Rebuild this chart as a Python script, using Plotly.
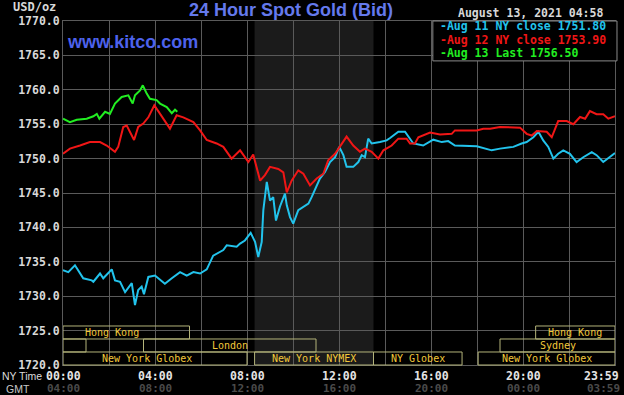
import plotly.graph_objects as go

# ---------------- data (hours after 00:00 NY time, USD/oz) ----------------
aug11_hours = [0.0, 0.23, 0.52, 0.88, 1.25, 1.32, 1.61, 1.75, 2.12, 2.26, 2.48, 2.70, 2.99, 3.13,
               3.27, 3.42, 3.52, 3.71, 4.00, 4.43, 4.73, 5.09, 5.38, 5.67, 5.96, 6.25, 6.53,
               6.97, 7.12, 7.55, 7.70, 7.91, 8.16, 8.35, 8.49, 8.64, 8.71, 8.86, 9.00, 9.14,
               9.26, 9.43, 9.65, 9.73, 9.87, 10.01, 10.23, 10.45, 10.67, 10.81, 11.03, 11.17,
               11.39, 11.61, 11.83, 12.01, 12.19, 12.33, 12.62, 12.84, 12.99, 13.13, 13.27,
               13.42, 13.78, 14.07, 14.22, 14.36, 14.58, 14.65, 14.87, 15.23, 15.66, 16.10,
               16.47, 16.75, 17.04, 17.99, 18.64, 19.00, 19.58, 19.94, 20.16, 20.45, 20.67,
               20.88, 21.10, 21.32, 21.53, 21.75, 22.04, 22.33, 22.62, 22.99, 23.20, 23.49,
               23.78, 24.0]
aug11_price = [1733.8, 1733.5, 1734.5, 1732.6, 1732.3, 1732.1, 1733.3, 1732.6, 1733.9, 1732.3,
               1732.1, 1730.6, 1731.9, 1728.7, 1730.9, 1731.4, 1730.3, 1732.8, 1733.0, 1731.8,
               1732.6, 1733.5, 1733.0, 1733.5, 1733.3, 1733.9, 1735.9, 1736.7, 1737.4, 1737.2,
               1737.65, 1738.1, 1739.2, 1737.9, 1735.7, 1737.9, 1742.5, 1746.6, 1743.9, 1744.4,
               1741.0, 1743.0, 1744.9, 1743.2, 1741.5, 1740.55, 1742.5, 1743.0, 1743.45, 1744.4,
               1745.9, 1747.1, 1748.05, 1749.5, 1750.2, 1751.7, 1750.5, 1748.8, 1748.8, 1749.5,
               1750.5, 1750.2, 1752.9, 1752.2, 1752.4, 1752.65, 1753.0, 1753.4, 1753.9, 1753.9,
               1753.9, 1752.2, 1751.9, 1752.75, 1752.4, 1752.55, 1751.9, 1751.8, 1751.2, 1751.45,
               1751.7, 1752.2, 1752.4, 1753.1, 1753.9, 1752.65, 1751.7, 1750.0, 1750.7, 1751.2,
               1750.7, 1749.5, 1750.2, 1750.95, 1750.5, 1749.5, 1750.2, 1750.8]

aug12_hours = [0.0, 0.30, 0.74, 1.17, 1.61, 1.90, 2.26, 2.40, 2.62, 2.77, 3.09, 3.27, 3.49, 3.71,
               3.97, 4.22, 4.65, 4.94, 5.23, 5.67, 5.96, 6.25, 6.68, 6.97, 7.33, 7.70, 8.06,
               8.27, 8.57, 8.78, 9.00, 9.36, 9.58, 9.73, 9.94, 10.23, 10.45, 10.74, 11.03,
               11.32, 11.53, 11.83, 12.04, 12.33, 12.62, 12.91, 13.13, 13.42, 13.71, 13.93,
               14.29, 14.58, 14.94, 15.09, 15.30, 15.45, 15.96, 16.39, 16.90, 17.04, 17.99,
               18.27, 18.57, 19.00, 19.87, 20.16, 20.38, 20.60, 21.03, 21.25, 21.53, 21.90,
               22.19, 22.48, 22.70, 22.91, 23.20, 23.49, 23.71, 24.0]
aug12_price = [1750.7, 1751.45, 1751.9, 1752.4, 1752.4, 1751.9, 1751.0, 1751.7, 1754.6, 1754.8,
               1752.7, 1754.6, 1755.1, 1756.0, 1757.75, 1756.5, 1754.35, 1756.3, 1756.0, 1755.3,
               1754.1, 1752.7, 1752.2, 1751.7, 1750.0, 1751.2, 1749.5, 1750.6, 1746.8, 1747.6,
               1748.8, 1748.5, 1748.0, 1745.1, 1746.8, 1748.3, 1747.8, 1746.1, 1747.1, 1747.8,
               1749.75, 1750.7, 1751.7, 1753.2, 1751.9, 1751.0, 1751.45, 1751.0, 1750.0, 1751.2,
               1751.9, 1752.9, 1752.9, 1752.2, 1752.2, 1753.1, 1753.8, 1753.5, 1753.6, 1754.1,
               1754.1, 1754.35, 1754.35, 1754.6, 1754.5, 1753.6, 1753.35, 1754.0, 1753.9, 1753.1,
               1755.45, 1755.45, 1755.0, 1756.05, 1755.8, 1756.9, 1756.45, 1756.45, 1755.8, 1756.15]

aug13_hours = [0.0, 0.30, 0.60, 1.03, 1.32, 1.47, 1.58, 1.83, 2.04, 2.26, 2.55, 2.84, 3.03, 3.13,
               3.35, 3.47, 3.64, 3.78, 4.07, 4.22, 4.51, 4.73, 4.87, 4.97]
aug13_price = [1755.8, 1755.3, 1755.65, 1755.8, 1756.15, 1756.5, 1755.8, 1756.8, 1756.5, 1758.0,
               1758.95, 1759.2, 1758.0, 1759.2, 1759.9, 1760.65, 1759.45, 1758.7, 1758.5, 1758.0,
               1757.5, 1756.6, 1757.1, 1756.8]

series_names = ["Aug 11 NY close 1751.80", "Aug 12 NY close 1753.90", "Aug 13 Last 1756.50"]

y_ticks = [1720, 1725, 1730, 1735, 1740, 1745, 1750, 1755, 1760, 1765, 1770]
x_tick_hours = [0, 4, 8, 12, 16, 20, 24]
ny_time_labels = ["00:00", "04:00", "08:00", "12:00", "16:00", "20:00", "23:59"]
gmt_labels = ["04:00", "08:00", "12:00", "16:00", "20:00", "00:00", "03:59"]

# market sessions: (row, start hour, end hour, label)
session_rows = [0, 0, 1, 1, 1, 2, 2, 2, 2]
session_start = [0.0, 20.55, 0.0, 3.5, 19.0, 0.0, 8.33, 13.5, 18.05]
session_end = [5.5, 24.0, 1.0, 11.0, 24.0, 8.0, 13.5, 17.35, 24.0]
session_label = ["Hong Kong", "Hong Kong", "", "London", "Sydney", "New York Globex",
                 "New York NYMEX", "NY Globex", "New York Globex"]

nymex_open, nymex_close = 8.33, 13.5

# ---------------- styling ----------------
BLUE = "#22c3ec"
RED = "#f01616"
GREEN = "#22ee22"
GRID = "#5a5a5a"
MONO = "DejaVu Sans Mono"
SANS = "Liberation Sans"

fig = go.Figure()
fig.add_trace(go.Scatter(x=aug11_hours, y=aug11_price, mode="lines",
                         line=dict(color=BLUE, width=2), hoverinfo="skip", name=series_names[0]))
fig.add_trace(go.Scatter(x=aug12_hours, y=aug12_price, mode="lines",
                         line=dict(color=RED, width=2), hoverinfo="skip", name=series_names[1]))
fig.add_trace(go.Scatter(x=aug13_hours, y=aug13_price, mode="lines",
                         line=dict(color=GREEN, width=2), hoverinfo="skip", name=series_names[2]))

shapes = []
# NYMEX shading
shapes.append(dict(type="rect", xref="x", yref="paper", x0=nymex_open, x1=nymex_close, y0=0, y1=1,
                   fillcolor="#1b1b1b", line=dict(width=0), layer="below"))

annotations = []
row_h = 0.0378
label_offsets = {0: -0.6, 5: -0.35}
for i, (r, s, e, lab) in enumerate(zip(session_rows, session_start, session_end, session_label)):
    y0 = (2 - r) * row_h
    shapes.append(dict(type="rect", xref="x", yref="paper", x0=s, x1=e, y0=y0, y1=y0 + row_h,
                       line=dict(color="#b4b47a", width=1), fillcolor="rgba(0,0,0,0)", layer="above"))
    if lab:
        annotations.append(dict(x=(s + e) / 2 + label_offsets.get(i, 0), y=y0 + row_h / 2,
                                xref="x", yref="paper", text=lab, showarrow=False,
                                font=dict(family=MONO, size=10, color="#f2c83a"),
                                xanchor="center", yanchor="middle"))

# legend box
shapes.append(dict(type="rect", xref="paper", yref="paper", x0=0.670, x1=1.0036, y0=0.884, y1=1.0,
                   fillcolor="#000000", line=dict(color="#8a8a8a", width=1), layer="above"))
for name, col, yy in zip(series_names, [BLUE, RED, GREEN], [0.986, 0.946, 0.906]):
    annotations.append(dict(x=0.679, y=yy, xref="paper", yref="paper", text="-" + name,
                            showarrow=False, xanchor="left", yanchor="middle",
                            font=dict(family=MONO, size=11.5, color=col, weight="bold")))

# x-axis labels
for h, ny, g in zip(x_tick_hours, ny_time_labels, gmt_labels):
    xa = "right" if h == 24 else "center"
    xs = 6 if h == 24 else 0
    annotations.append(dict(x=h, y=-0.031, xref="x", yref="paper", text=ny, showarrow=False,
                            xanchor=xa, yanchor="middle", xshift=xs,
                            font=dict(family=MONO, size=11.5, color="#e4e4e4", weight="bold")))
    annotations.append(dict(x=h, y=-0.067, xref="x", yref="paper", text=g, showarrow=False,
                            xanchor=xa, yanchor="middle", xshift=xs, borderpad=0,
                            font=dict(family=MONO, size=11, color="#4a4a4a", weight="bold")))
annotations.append(dict(x=-0.1123, y=-0.033, xref="paper", yref="paper", text="NY Time",
                        showarrow=False, xanchor="left", yanchor="middle", borderpad=0,
                        font=dict(family=SANS, size=10.5, color="#dcdcdc")))
annotations.append(dict(x=-0.0824, y=-0.069, xref="paper", yref="paper", text="GMT",
                        showarrow=False, xanchor="center", yanchor="middle", borderpad=0,
                        font=dict(family=SANS, size=10.5, color="#c8c8c8")))

# titles and texts
annotations.append(dict(x=0.413, y=1.032, xref="paper", yref="paper", text="24 Hour Spot Gold (Bid)",
                        showarrow=False, xanchor="center", yanchor="middle",
                        font=dict(family=SANS, size=18, color="#6479ec", weight="bold")))
annotations.append(dict(x=0.004, y=0.939, xref="paper", yref="paper", text="www.kitco.com",
                        showarrow=False, xanchor="left", yanchor="middle",
                        font=dict(family=SANS, size=18, color="#4d62ec", weight="bold")))
annotations.append(dict(x=-0.009, y=1.041, xref="paper", yref="paper", text="USD/oz",
                        showarrow=False, xanchor="right", yanchor="middle",
                        font=dict(family=MONO, size=12, color="#d8d8d8", weight="bold")))
annotations.append(dict(x=0.982, y=1.023, xref="paper", yref="paper", text="August 13, 2021 04:58",
                        showarrow=False, xanchor="right", yanchor="middle",
                        font=dict(family=MONO, size=11.5, color="#d8d8d8", weight="bold")))

fig.update_layout(
    width=624, height=395,
    margin=dict(l=63, r=9, t=21, b=30, pad=0, autoexpand=False),
    paper_bgcolor="#000000", plot_bgcolor="#000000",
    showlegend=False,
    shapes=shapes, annotations=annotations,
    xaxis=dict(range=[0, 24], tickvals=list(range(0, 25, 2)), showticklabels=False,
               showgrid=True, gridcolor=GRID, gridwidth=1, zeroline=False, automargin=False,
               showline=True, linecolor=GRID, linewidth=1, mirror=True, ticks="", fixedrange=True),
    yaxis=dict(range=[1720, 1770], tickvals=y_ticks, ticktext=[f"{v:.1f}" for v in y_ticks],
               showgrid=True, gridcolor=GRID, gridwidth=1, zeroline=False, automargin=False,
               showline=True, linecolor=GRID, linewidth=1, mirror=True, ticks="",
               tickfont=dict(family=MONO, size=11.5, color="#d8d8d8", weight="bold"), fixedrange=True),
)

fig.write_html("out.html", config={"displayModeBar": False},
               post_script="document.body.style.margin='0';document.body.style.background='#000';")
